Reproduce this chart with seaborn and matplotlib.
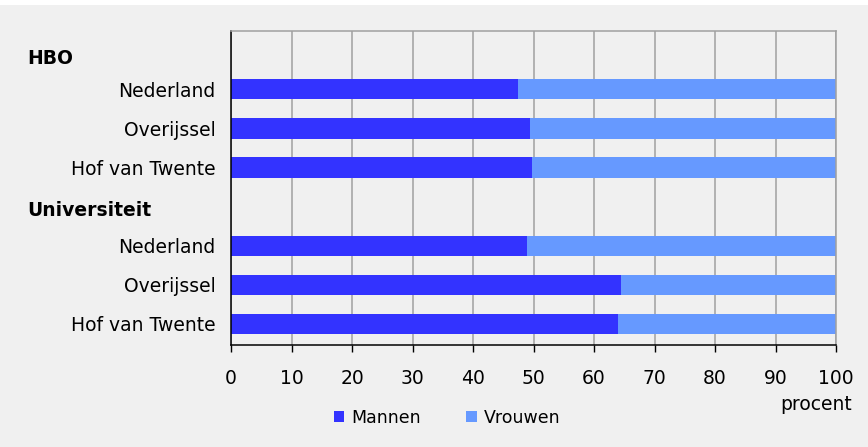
import pandas as pd
import seaborn as sns
import matplotlib.pyplot as plt
import matplotlib.patches as mpatches

groups = ["HBO", "HBO", "HBO", "Universiteit", "Universiteit", "Universiteit"]
regions = ["Nederland", "Overijssel", "Hof van Twente",
           "Nederland", "Overijssel", "Hof van Twente"]
mannen = [47.4, 49.5, 49.7, 49.0, 64.5, 64.0]
vrouwen = [100 - m for m in mannen]
headers = ["HBO", "Universiteit"]

df = pd.DataFrame({"key": [g + "|" + r for g, r in zip(groups, regions)],
                   "Mannen": mannen, "Vrouwen": vrouwen})
df["Totaal"] = df["Mannen"] + df["Vrouwen"]

# empty slot for each group header
order = []
labels = []
for h in headers:
    order.append(h + "|")
    labels.append("")
    for g, r in zip(groups, regions):
        if g == h:
            order.append(g + "|" + r)
            labels.append(r)

sns.set_theme(style="white")
plt.rcParams['font.family'] = ['DejaVu Sans']
plt.rcParams['text.color'] = 'black'
bg = "#f0f0f0"
fs = 13.5

fig = plt.figure(figsize=(8.68, 4.47), dpi=100, facecolor=bg)
ax = fig.add_axes([231/868, 1 - 345/447, (836-231)/868, (345-31)/447])
ax.set_facecolor(bg)

sns.barplot(data=df, y="key", x="Totaal", order=order, orient="h", linewidth=0,
            color="#6699ff", width=0.52, label="Vrouwen", ax=ax, saturation=1)
sns.barplot(data=df, y="key", x="Mannen", order=order, orient="h", linewidth=0,
            color="#3333ff", width=0.52, label="Mannen", ax=ax, saturation=1)

ax.set_xlim(0, 100)
ax.set_ylim(7.54, -0.49)
ax.set_xticks(range(0, 101, 10))
ax.set_yticks(range(len(order)))
ax.set_yticklabels(labels)
ax.set_xlabel("")
ax.set_ylabel("")
ax.xaxis.grid(True, color="#a0a0a0", linewidth=1.1)
ax.set_axisbelow(True)
ax.tick_params(axis="y", length=0, pad=11, labelsize=fs, colors="black")
ax.tick_params(axis="x", length=5, width=1, direction="out", pad=12,
               labelsize=fs, colors="black", bottom=True)
for s in ["left", "bottom"]:
    ax.spines[s].set_color("black")
    ax.spines[s].set_linewidth(1.1)
for s in ["top", "right"]:
    ax.spines[s].set_color("#a0a0a0")
    ax.spines[s].set_linewidth(1.1)

fig.text(27/868, 1 - 58/447, "HBO", fontsize=fs, fontweight="bold", va="center")
fig.text(27/868, 1 - 210/447, "Universiteit", fontsize=fs, fontweight="bold", va="center")
fig.text(852/868, 1 - 405/447, "procent", fontsize=fs, ha="right", va="center")

handles, lbls = ax.get_legend_handles_labels()
hmap = dict(zip(lbls, handles))
ax.legend([hmap["Mannen"], hmap["Vrouwen"]], ["Mannen", "Vrouwen"],
          loc="center", bbox_to_anchor=(0.515, 0.065), bbox_transform=fig.transFigure,
          ncol=2, frameon=False, fontsize=12.5, handlelength=0.6, handleheight=0.6,
          handletextpad=0.4, columnspacing=2.6, labelcolor="black")

fig.patches.append(mpatches.Rectangle((0, 1 - 5/447), 1, 5/447, transform=fig.transFigure,
                                      facecolor="white", edgecolor="none", zorder=-1))

fig.savefig("out.png", dpi=100, facecolor=bg)
